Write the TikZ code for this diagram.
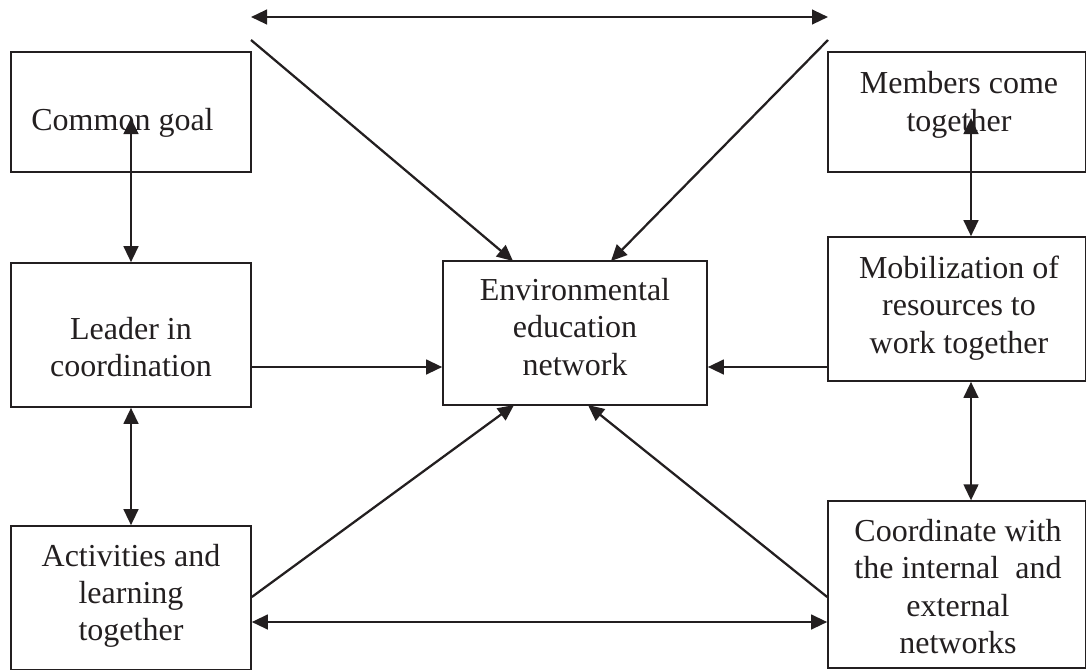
\documentclass[tikz,border=0pt]{standalone}
\usepackage{fontspec}
\setmainfont{Liberation Serif}
\usepackage{xcolor}
\usepackage{tikz}
\usetikzlibrary{positioning,arrows.meta}
\definecolor{inkblack}{HTML}{231F20}
\tikzset{
  x=0.75pt, y=-0.75pt,
  netbox/.style={rectangle, draw=inkblack, line width=1.2pt, inner sep=0pt},
  nettext/.style={align=center, text=inkblack, inner sep=0pt, font=\fontsize{24}{28}\selectfont},
  fwd/.style={-{Triangle[length=12pt,width=11pt]}, draw=inkblack, line width=1.7pt},
  both/.style={{Triangle[length=12pt,width=11pt]}-{Triangle[length=12pt,width=11pt]}, draw=inkblack, line width=1.7pt},
}

\begin{document}
\begin{tikzpicture}
  \useasboundingbox (0,0) rectangle (1086,669);
  \node[netbox, minimum width=180pt, minimum height=90pt] (goal) at (131,112) {};
  \node[netbox, minimum width=193.5pt, minimum height=90pt] (members) at (957,112) {};
  \node[netbox, minimum width=180pt, minimum height=108pt] (leader) at (131,335) {};
  \node[netbox, minimum width=198pt, minimum height=108pt] (env) at (575,333) {};
  \node[netbox, minimum width=193.5pt, minimum height=108pt] (mobil) at (957,309) {};
  \node[netbox, minimum width=180pt, minimum height=108pt] (act) at (131,598) {};
  \node[netbox, minimum width=193.5pt, minimum height=125pt] (coord) at (957,584.5) {};

  \node[nettext] (goaltext) at (122.5,123) {Common goal};
  \node[nettext] (membertext) at (959,105) {Members come\\together};
  \node[nettext] (leadertext) at (131,347) {Leader in\\coordination};
  \node[nettext] (envtext) at (575,327) {Environmental\\education\\network};
  \node[nettext] (mobiltext) at (959,308) {Mobilization of\\resources to\\work together};
  \node[nettext] (acttext) at (131,596) {Activities and\\learning\\together};
  \node[nettext] (coordtext) at (958,586.5) {Coordinate with\\the internal\ \ and\\external\\networks};

  \coordinate (topl) at (251,17);
  \coordinate (topr) at (828,17);
  \coordinate (diagl) at (251,40);
  \coordinate (diagr) at (828,40);
  \coordinate (goalin) at (131,118);
  \coordinate (memin) at (971,118);
  \coordinate (env1) at (514,405);
  \coordinate (env2) at (588,405);
  \coordinate (env3) at (513,261);
  \coordinate (env4) at (611,261);
  \coordinate (midrow) at (575,367);
  \coordinate (lowrow) at (540,597);
  \coordinate (botrow) at (540,622);

  \draw[both] (topl) -- (topr);
  \draw[fwd] (diagl) -- (env3);
  \draw[fwd] (diagr) -- (env4);
  \draw[both] (goalin) -- (leader.north);
  \draw[both] (memin) -- (memin |- mobil.north);
  \draw[both] (leader.south) -- (act.north);
  \draw[both] (memin |- mobil.south) -- (memin |- coord.north);
  \draw[fwd] (midrow -| leader.east) -- (midrow -| env.west);
  \draw[fwd] (midrow -| mobil.west) -- (midrow -| env.east);
  \draw[fwd] (lowrow -| act.east) -- (env1);
  \draw[fwd] (lowrow -| coord.west) -- (env2);
  \draw[both] (botrow -| act.east) -- (botrow -| coord.west);
\end{tikzpicture}
\end{document}
